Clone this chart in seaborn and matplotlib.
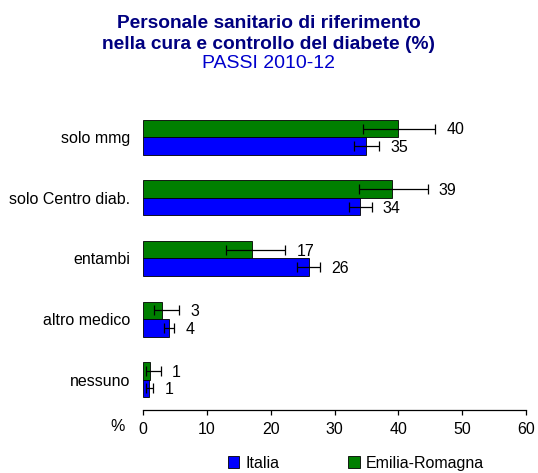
import numpy as np
import pandas as pd
import matplotlib
matplotlib.use('Agg')
import matplotlib.pyplot as plt
from matplotlib.patches import Patch
import seaborn as sns

# data
categorie = ['solo mmg', 'solo Centro diab.', 'entambi', 'altro medico', 'nessuno']
italia = [35, 34, 26, 4, 1]
italia_lo = [33.1, 32.3, 24.2, 3.3, 0.4]
italia_hi = [37.0, 35.8, 27.8, 4.9, 1.6]
emilia = [40, 39, 17, 3, 1.1]
emilia_lo = [34.5, 33.8, 13.0, 1.8, 0.4]
emilia_hi = [45.8, 44.6, 22.3, 5.7, 2.8]
aree = ['Emilia-Romagna', 'Italia']
colori = {'Italia': '#0000FF', 'Emilia-Romagna': '#007F00'}

df = pd.DataFrame({
    'categoria': categorie * 2,
    'area': ['Italia'] * 5 + ['Emilia-Romagna'] * 5,
    'valore': italia + emilia,
    'lo': italia_lo + emilia_lo,
    'hi': italia_hi + emilia_hi,
})

sns.set_style('white', {'text.color': 'black', 'xtick.color': 'black',
                        'ytick.color': 'black', 'axes.labelcolor': 'black'})
plt.rcParams['font.family'] = ['Liberation Sans', 'DejaVu Sans']
fs = 11.5

fig = plt.figure(figsize=(5.38, 4.73), dpi=100)
ax = fig.add_axes([0.2658, 0.1332, 0.7119, 0.6406])

sns.barplot(data=df, y='categoria', x='valore', hue='area', hue_order=aree,
            order=categorie, orient='h', palette=colori, saturation=1, width=0.58,
            edgecolor='black', linewidth=0.6, errorbar=None, legend=False, ax=ax)

# error bars + labels, positioned from the bars seaborn drew
for i, area in enumerate(aree):
    cont = ax.containers[i]
    sub = df[df['area'] == area].set_index('categoria').loc[categorie]
    for bar, (_, row) in zip(cont, sub.iterrows()):
        yc = bar.get_y() + bar.get_height() / 2
        ax.errorbar([row['valore']], [yc],
                    xerr=[[row['valore'] - row['lo']], [row['hi'] - row['valore']]],
                    fmt='none', ecolor='black', elinewidth=0.9, capsize=3.5, capthick=0.9)
        ax.annotate(f"{row['valore']:.0f}", xy=(row['hi'], yc), xytext=(8, -1),
                    textcoords='offset points', ha='left', va='center', fontsize=fs,
                    color='black')

ax.set_xlim(0, 60)
ax.set_ylim(4.5, -0.5)
ax.set_xticks(range(0, 61, 10))
ax.set_xlabel('')
ax.set_ylabel('')
for s in ['top', 'right', 'left']:
    ax.spines[s].set_visible(False)
ax.spines['bottom'].set_linewidth(0.9)
ax.spines['bottom'].set_color('black')
ax.tick_params(axis='x', direction='out', length=3.6, width=0.9, pad=5, labelsize=fs,
               bottom=True, colors='black')
ax.tick_params(axis='y', length=0, pad=9, labelsize=fs, colors='black')
ax.annotate('%', xy=(0, 0), xycoords='axes fraction', xytext=(-18, -12),
            textcoords='offset points', ha='center', va='center', fontsize=fs, color='black')

# legend (Italia first)
handles = [Patch(facecolor=colori['Italia'], edgecolor='black', linewidth=0.6),
           Patch(facecolor=colori['Emilia-Romagna'], edgecolor='black', linewidth=0.6)]
leg = fig.legend(handles, ['Italia', 'Emilia-Romagna'], loc='center', bbox_to_anchor=(0.662, 0.021),
                 ncol=2, frameon=False, fontsize=fs, handlelength=0.7, handleheight=0.7,
                 handletextpad=0.4, columnspacing=4.3)
for t in leg.get_texts():
    t.set_color('black')

fig.text(0.5, 0.951, 'Personale sanitario di riferimento', ha='center', va='center',
         fontsize=13.8, fontweight='bold', color='#000080')
fig.text(0.5, 0.905, 'nella cura e controllo del diabete (%)', ha='center', va='center',
         fontsize=13.8, fontweight='bold', color='#000080')
fig.text(0.5, 0.865, 'PASSI 2010-12', ha='center', va='center', fontsize=14, color='#0000CC')

fig.savefig('out.png', dpi=100)
